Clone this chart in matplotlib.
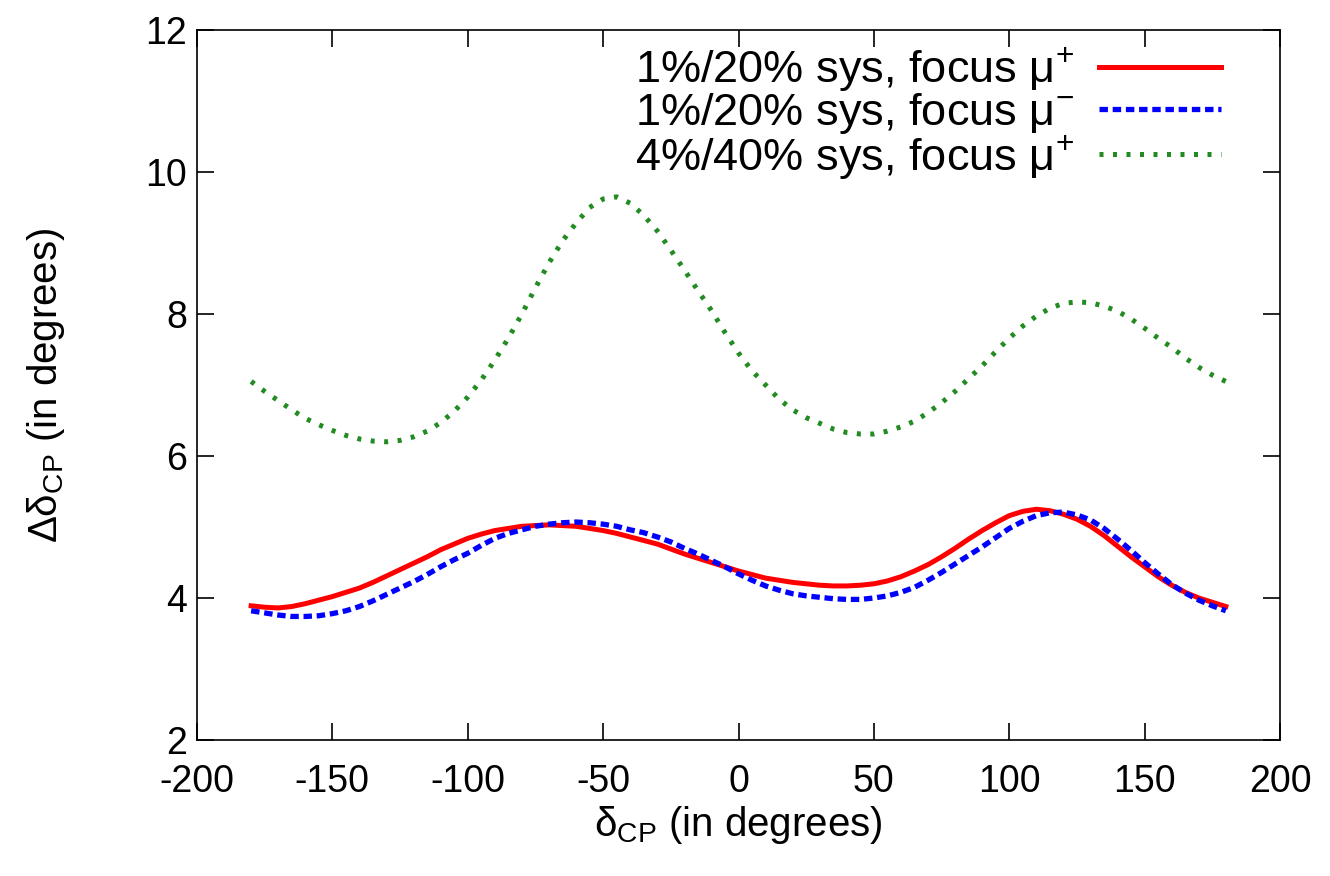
import matplotlib
matplotlib.use("Agg")
import matplotlib.pyplot as plt

plt.rcParams['font.family'] = ['Liberation Sans', 'DejaVu Sans']
plt.rcParams['mathtext.fontset'] = 'custom'
plt.rcParams['mathtext.rm'] = 'Liberation Sans'
plt.rcParams['mathtext.it'] = 'Liberation Sans:italic'
plt.rcParams['axes.unicode_minus'] = False

delta_cp = [-180, -175, -170, -165, -160, -155, -150, -145, -140, -135, -130, -125,
            -120, -115, -110, -105, -100, -95, -90, -85, -80, -75, -70, -65, -60, -55,
            -50, -45, -40, -35, -30, -25, -20, -15, -10, -5, 0, 5, 10, 15, 20, 25, 30,
            35, 40, 45, 50, 55, 60, 65, 70, 75, 80, 85, 90, 95, 100, 105, 110, 115,
            120, 125, 130, 135, 140, 145, 150, 155, 160, 165, 170, 175, 180]

sys1_mu_plus = [3.89, 3.87, 3.86, 3.88, 3.92, 3.97, 4.02, 4.08, 4.14, 4.22, 4.31, 4.40,
                4.49, 4.58, 4.68, 4.76, 4.84, 4.90, 4.95, 4.98, 5.01, 5.02, 5.03, 5.02,
                5.01, 4.98, 4.95, 4.91, 4.86, 4.81, 4.76, 4.69, 4.62, 4.56, 4.50, 4.44,
                4.38, 4.33, 4.28, 4.25, 4.22, 4.20, 4.18, 4.17, 4.17, 4.18, 4.20, 4.24,
                4.30, 4.38, 4.47, 4.58, 4.70, 4.83, 4.95, 5.06, 5.16, 5.22, 5.25, 5.23,
                5.18, 5.11, 5.01, 4.88, 4.73, 4.58, 4.44, 4.30, 4.18, 4.08, 4.00, 3.94,
                3.88]

sys1_mu_minus = [3.82, 3.79, 3.76, 3.74, 3.74, 3.75, 3.78, 3.82, 3.88, 3.96, 4.05, 4.14,
                 4.23, 4.33, 4.44, 4.54, 4.63, 4.74, 4.84, 4.91, 4.96, 5.01, 5.04, 5.06,
                 5.07, 5.06, 5.04, 5.01, 4.96, 4.92, 4.86, 4.79, 4.70, 4.62, 4.53, 4.44,
                 4.34, 4.25, 4.17, 4.11, 4.06, 4.03, 4.01, 3.99, 3.98, 3.98, 4.00, 4.03,
                 4.08, 4.15, 4.25, 4.36, 4.48, 4.60, 4.72, 4.85, 4.98, 5.08, 5.16, 5.20,
                 5.21, 5.17, 5.10, 4.98, 4.83, 4.67, 4.50, 4.34, 4.19, 4.07, 3.97, 3.89,
                 3.82]

sys4_mu_plus = [7.05, 6.91, 6.78, 6.65, 6.53, 6.44, 6.36, 6.29, 6.24, 6.21, 6.20, 6.22,
                6.27, 6.35, 6.47, 6.63, 6.83, 7.07, 7.35, 7.66, 8.00, 8.37, 8.72, 9.03,
                9.28, 9.50, 9.62, 9.65, 9.56, 9.39, 9.17, 8.90, 8.62, 8.33, 8.05, 7.74,
                7.45, 7.20, 7.00, 6.80, 6.65, 6.54, 6.46, 6.38, 6.33, 6.31, 6.31, 6.35,
                6.41, 6.49, 6.61, 6.75, 6.91, 7.09, 7.27, 7.47, 7.66, 7.83, 7.97, 8.08,
                8.15, 8.17, 8.16, 8.11, 8.04, 7.93, 7.80, 7.66, 7.53, 7.38, 7.25, 7.14,
                7.05]

labels = [r"1%/20% sys, focus μ$^{+}$",
          r"1%/20% sys, focus μ$^{-}$",
          r"4%/40% sys, focus μ$^{+}$"]

x_ticks = [-200, -150, -100, -50, 0, 50, 100, 150, 200]
y_ticks = [2, 4, 6, 8, 10, 12]

fig = plt.figure(figsize=(13.3, 8.76), dpi=100)
ax = fig.add_axes([197/1330, 1-740/876, (1280-197)/1330, (740-30)/876])

ax.plot(delta_cp, sys1_mu_plus, color='#ff0000', lw=3.6, ls='-', label=labels[0])
ax.plot(delta_cp, sys1_mu_minus, color='#0000ff', lw=3.8, ls=(0, (1.6, 0.9)), label=labels[1])
ax.plot(delta_cp, sys4_mu_plus, color='#228b22', lw=3.6, ls=(0, (0.8, 1.9)), label=labels[2])

ax.set_xlim(-200, 200)
ax.set_ylim(2, 12)
ax.set_xticks(x_ticks)
ax.set_yticks(y_ticks)
ax.tick_params(direction='in', length=12, width=1.2, top=True, right=True,
               labelsize=27)
ax.tick_params(axis='x', pad=17)
ax.tick_params(axis='y', pad=7)
for s in ax.spines.values():
    s.set_linewidth(1.2)

ax.set_xlabel(r"δ$_{\mathrm{CP}}$ (in degrees)", fontsize=29)
ax.set_ylabel(r"Δδ$_{\mathrm{CP}}$ (in degrees)", fontsize=29)
ax.xaxis.set_label_coords(0.5, -0.09)
ax.yaxis.set_label_coords(-0.12, 0.5)

ax.legend(loc='upper right', bbox_to_anchor=(0.966, 1.01), frameon=False,
          markerfirst=False, fontsize=32.5, handlelength=2.7, labelspacing=-0.06,
          borderpad=0, handletextpad=0.55)

fig.savefig("out.png", dpi=100)
